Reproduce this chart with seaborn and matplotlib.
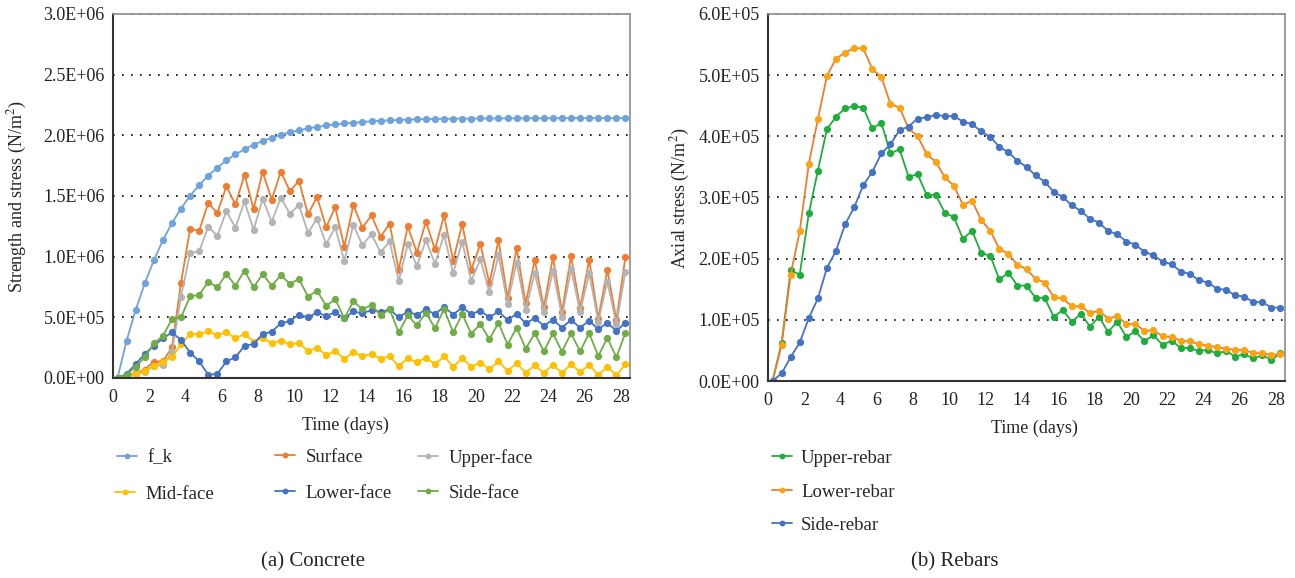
import numpy as np
import pandas as pd
import matplotlib
matplotlib.use("Agg")
import matplotlib.pyplot as plt
from matplotlib.lines import Line2D
from matplotlib.ticker import FuncFormatter, MultipleLocator
import seaborn as sns

# ---------------- data ----------------
time_days = np.arange(57) * 0.5 + 0.25  # sampling times (days)

# Concrete (values in MN/m^2, i.e. x1e6 N/m^2)
f_k = [0, 0.308, 0.56, 0.78, 0.97, 1.135, 1.277, 1.396, 1.503, 1.59, 1.668, 1.733, 1.794, 1.843,
       1.885, 1.923, 1.953, 1.98, 2.005, 2.025, 2.04, 2.058, 2.07, 2.082, 2.09, 2.099, 2.104, 2.11,
       2.116, 2.12, 2.124, 2.127, 2.13, 2.132, 2.134, 2.135, 2.136, 2.137, 2.138, 2.138, 2.139, 2.139,
       2.14, 2.14, 2.14, 2.141, 2.141, 2.141, 2.141, 2.142, 2.142, 2.142, 2.142, 2.142, 2.142, 2.142, 2.142]
surface = [0, 0.02, 0.04, 0.07, 0.135, 0.137, 0.253, 0.786, 1.228, 1.214, 1.442, 1.36, 1.58, 1.43,
           1.676, 1.393, 1.698, 1.47, 1.70, 1.541, 1.624, 1.349, 1.492, 1.242, 1.407, 1.082, 1.425,
           1.239, 1.341, 1.165, 1.272, 0.89, 1.25, 1.033, 1.288, 1.06, 1.34, 0.967, 1.269, 0.89, 1.104,
           0.78, 1.137, 0.657, 1.069, 0.615, 0.973, 0.582, 0.997, 0.544, 1.005, 0.577, 0.973, 0.49,
           0.89, 0.478, 1.0]
upper_face = [0, 0.01, 0.03, 0.05, 0.10, 0.107, 0.214, 0.67, 1.03, 1.044, 1.245, 1.173, 1.374, 1.239,
              1.456, 1.22, 1.475, 1.288, 1.484, 1.354, 1.426, 1.198, 1.313, 1.104, 1.242, 0.967, 1.258,
              1.096, 1.184, 1.036, 1.126, 0.80, 1.104, 0.923, 1.137, 0.94, 1.181, 0.863, 1.124, 0.80,
              0.978, 0.705, 1.01, 0.613, 0.951, 0.563, 0.865, 0.544, 0.882, 0.505, 0.896, 0.544, 0.863,
              0.464, 0.794, 0.445, 0.876]
mid_face = [0, 0.005, 0.033, 0.06, 0.10, 0.135, 0.17, 0.28, 0.363, 0.363, 0.385, 0.354, 0.376, 0.327,
            0.363, 0.30, 0.33, 0.286, 0.308, 0.28, 0.286, 0.225, 0.245, 0.19, 0.22, 0.159, 0.212,
            0.181, 0.195, 0.159, 0.179, 0.099, 0.162, 0.129, 0.168, 0.113, 0.179, 0.093, 0.162, 0.093,
            0.126, 0.074, 0.137, 0.06, 0.121, 0.044, 0.104, 0.044, 0.107, 0.044, 0.113, 0.049, 0.107,
            0.025, 0.093, 0.022, 0.113]
lower_face = [0, 0.035, 0.115, 0.198, 0.266, 0.327, 0.376, 0.313, 0.21, 0.137, 0.027, 0.033, 0.137,
              0.17, 0.266, 0.28, 0.363, 0.382, 0.45, 0.47, 0.522, 0.5, 0.541, 0.511, 0.541, 0.492,
              0.549, 0.533, 0.56, 0.544, 0.566, 0.5, 0.549, 0.519, 0.566, 0.525, 0.588, 0.522, 0.582,
              0.527, 0.555, 0.5, 0.549, 0.478, 0.527, 0.451, 0.492, 0.431, 0.481, 0.415, 0.478, 0.415,
              0.473, 0.401, 0.456, 0.387, 0.456]
side_face = [0, 0.027, 0.093, 0.17, 0.286, 0.346, 0.486, 0.50, 0.673, 0.684, 0.794, 0.747, 0.857,
             0.761, 0.885, 0.747, 0.857, 0.761, 0.846, 0.777, 0.816, 0.67, 0.72, 0.593, 0.651, 0.492,
             0.632, 0.566, 0.602, 0.516, 0.566, 0.376, 0.516, 0.434, 0.538, 0.409, 0.569, 0.376,
             0.527, 0.365, 0.445, 0.319, 0.456, 0.275, 0.415, 0.242, 0.368, 0.22, 0.368, 0.217, 0.368,
             0.22, 0.368, 0.181, 0.33, 0.17, 0.374]

# Rebars (values in units of 1e5 N/m^2)
upper_rebar = [0, 0.62, 1.81, 1.74, 2.74, 3.44, 4.12, 4.32, 4.46, 4.49, 4.47, 4.13, 4.22, 3.72, 3.79,
               3.34, 3.38, 3.04, 3.04, 2.75, 2.68, 2.32, 2.46, 2.09, 2.05, 1.66, 1.77, 1.56, 1.56, 1.36,
               1.36, 1.05, 1.16, 0.97, 1.10, 0.89, 1.05, 0.80, 0.97, 0.72, 0.81, 0.65, 0.75, 0.59, 0.66,
               0.54, 0.54, 0.49, 0.51, 0.45, 0.49, 0.40, 0.44, 0.37, 0.42, 0.35, 0.45]
lower_rebar = [0, 0.59, 1.74, 2.45, 3.55, 4.28, 4.99, 5.27, 5.37, 5.44, 5.44, 5.10, 4.97, 4.53, 4.47,
               4.13, 4.0, 3.71, 3.58, 3.33, 3.19, 2.88, 2.95, 2.63, 2.46, 2.16, 2.08, 1.90, 1.83, 1.67,
               1.61, 1.37, 1.35, 1.22, 1.22, 1.11, 1.15, 1.02, 1.06, 0.93, 0.93, 0.82, 0.83, 0.73, 0.72,
               0.66, 0.65, 0.60, 0.58, 0.55, 0.53, 0.51, 0.50, 0.46, 0.45, 0.43, 0.44]
side_rebar = [0, 0.125, 0.39, 0.63, 1.03, 1.35, 1.85, 2.13, 2.56, 2.84, 3.20, 3.42, 3.72, 3.87, 4.10,
              4.16, 4.29, 4.31, 4.35, 4.33, 4.33, 4.24, 4.20, 4.08, 3.99, 3.83, 3.74, 3.60, 3.50, 3.36,
              3.26, 3.09, 3.01, 2.87, 2.78, 2.65, 2.59, 2.45, 2.40, 2.28, 2.23, 2.11, 2.06, 1.95, 1.91,
              1.79, 1.75, 1.65, 1.61, 1.51, 1.49, 1.40, 1.38, 1.29, 1.29, 1.20, 1.20]

concrete_labels = ["f_k", "Surface", "Upper-face", "Mid-face", "Lower-face", "Side-face"]
rebar_labels = ["Upper-rebar", "Lower-rebar", "Side-rebar"]
x_ticks = list(range(0, 29, 2))

# ---------------- style ----------------
sns.set_style("white")
plt.rcParams["font.family"] = ["Liberation Serif", "DejaVu Serif"]
plt.rcParams["mathtext.fontset"] = "stix"

W, H = 1295, 578
fig = plt.figure(figsize=(W / 100, H / 100), dpi=100)
fig.patch.set_facecolor("white")

ax1 = fig.add_axes([113 / W, 1 - 378 / H, (630 - 113) / W, (378 - 14) / H])
ax2 = fig.add_axes([768 / W, 1 - 381 / H, (1285 - 768) / W, (381 - 14) / H])

concrete_series = [f_k, surface, upper_face, mid_face, lower_face, side_face]
concrete_colors = ["#6FA3DB", "#ED7D31", "#B4B4B4", "#FFC000", "#4472C4", "#70AD47"]
rebar_series = [upper_rebar, lower_rebar, side_rebar]
rebar_colors = ["#1FAE3C", "#ED7D31", "#4472C4"]
rebar_mfc = ["#1FAE3C", "#FCA311", "#4472C4"]

for vals, col in zip(concrete_series, concrete_colors):
    df = pd.DataFrame({"t": time_days, "v": np.asarray(vals) * 1e6})
    sns.lineplot(data=df, x="t", y="v", ax=ax1, color=col, marker="o", markersize=5.2,
                 markeredgewidth=0, linewidth=1.3, sort=False, errorbar=None, legend=False)

for vals, col, mfc in zip(rebar_series, rebar_colors, rebar_mfc):
    df = pd.DataFrame({"t": time_days, "v": np.asarray(vals) * 1e5})
    sns.lineplot(data=df, x="t", y="v", ax=ax2, color=col, marker="o", markersize=5.2,
                 markerfacecolor=mfc, markeredgewidth=0, linewidth=1.3, sort=False,
                 errorbar=None, legend=False)

sci = FuncFormatter(lambda v, p: f"{v:.1E}")
for ax, ymax, ystep in [(ax1, 3e6, 5e5), (ax2, 6e5, 1e5)]:
    ax.set_xlim(0, 28.5)
    ax.set_ylim(0, ymax)
    ax.set_xticks(x_ticks)
    ax.yaxis.set_major_locator(MultipleLocator(ystep))
    ax.yaxis.set_major_formatter(sci)
    ax.set_xlabel("")
    ax.set_ylabel("")
    ax.grid(False)
    ax.yaxis.grid(True, color="black", linestyle=(0, (1, 4.4)), linewidth=1.2)
    ax.set_axisbelow(True)
    for s in ["left", "bottom"]:
        ax.spines[s].set_color("#333333")
        ax.spines[s].set_linewidth(1.5)
    for s in ["top", "right"]:
        ax.spines[s].set_color("#8C8C8C")
        ax.spines[s].set_linewidth(1.2)
    ax.tick_params(axis="both", labelsize=13, colors="#222222", direction="out",
                   length=4, width=1, pad=4)
    ax.tick_params(axis="y", length=0, pad=6)

# axis labels
fig.text(17 / W, 1 - 196 / H, "Strength and stress (N/m$^2$)", rotation=90, ha="center",
         va="center", fontsize=13)
fig.text(680 / W, 1 - 198 / H, "Axial stress (N/m$^2$)", rotation=90, ha="center",
         va="center", fontsize=13)
fig.text(345 / W, 1 - 425 / H, "Time (days)", ha="center", va="center", fontsize=13)
fig.text(1034 / W, 1 - 428 / H, "Time (days)", ha="center", va="center", fontsize=13)

# captions
fig.text(313 / W, 1 - 562 / H, "(a) Concrete", ha="center", va="center", fontsize=15)
fig.text(955 / W, 1 - 562 / H, "(b) Rebars", ha="center", va="center", fontsize=15)


def legend_entry(x, y, color, label, mfc=None, pad=0.6):
    h = Line2D([], [], color=color, marker="o", markersize=4.2, markerfacecolor=mfc or color,
               markeredgewidth=0, lw=1.3)
    fig.legend(handles=[h], labels=[label], loc="center left", bbox_to_anchor=(x / W, 1 - y / H),
               frameon=False, borderpad=0, borderaxespad=0, handlelength=1.05,
               handletextpad=pad, fontsize=13.5, numpoints=1)


# concrete legend (3 columns x 2 rows)
pos_concrete = [(117, 458), (275, 457), (418, 458), (115, 494), (275, 493), (418, 493)]
for (x, y), col, lab in zip(pos_concrete, concrete_colors, concrete_labels):
    legend_entry(x, y, col, lab)

# rebar legend
pos_rebar = [(772, 458), (772, 492), (772, 525)]
for (x, y), col, mfc, lab in zip(pos_rebar, rebar_colors, rebar_mfc, rebar_labels):
    legend_entry(x, y, col, lab, mfc=mfc, pad=0.5)

fig.savefig("out.png", dpi=100, facecolor="white")
